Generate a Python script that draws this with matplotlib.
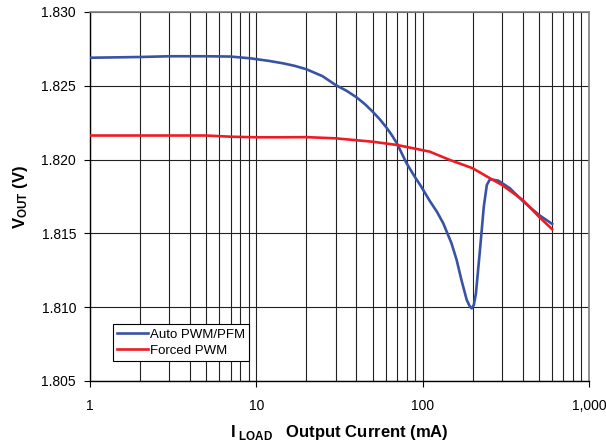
import matplotlib
matplotlib.use("Agg")
from matplotlib import pyplot as plt
from matplotlib.ticker import FixedLocator, LogLocator, NullFormatter

plt.rcParams['font.family'] = ['Liberation Sans', 'DejaVu Sans']
plt.rcParams['mathtext.fontset'] = 'custom'
plt.rcParams['mathtext.rm'] = 'Liberation Sans'
plt.rcParams['mathtext.bf'] = 'Liberation Sans:bold'

# Auto PWM/PFM
auto_x = [1, 2, 3, 5, 7, 9.2, 12, 14.5, 17, 20, 25, 30, 35, 40, 45, 50, 55, 60,
          65, 70, 80, 90, 97, 110, 122, 133, 149, 160, 171, 184, 192, 197,
          203, 209, 221, 233, 243, 254, 285, 334, 403, 500, 600]
auto_y = [1.8269, 1.82695, 1.8270, 1.8270, 1.82698, 1.82686, 1.82668, 1.82652,
          1.82635, 1.82612, 1.82565, 1.82505, 1.82465, 1.82422, 1.82375,
          1.82325, 1.82275, 1.82223, 1.82168, 1.82110, 1.81975, 1.81880,
          1.81825, 1.81722, 1.81645, 1.81568, 1.81433, 1.81320, 1.81184,
          1.81049, 1.81005, 1.80992, 1.81015, 1.81094, 1.81388, 1.81681,
          1.81828, 1.81867, 1.81857, 1.81806, 1.81715, 1.81625, 1.81564]

# Forced PWM
forced_x = [1, 2, 3, 5, 7, 10, 14, 20, 30, 50, 70, 110, 146, 200, 254, 300,
            400, 500, 600]
forced_y = [1.82163, 1.82163, 1.82163, 1.82163, 1.82155, 1.82151, 1.82151,
            1.82152, 1.82144, 1.82121, 1.82099, 1.82054, 1.81997, 1.81941,
            1.81873, 1.81828, 1.81726, 1.81613, 1.81528]

x_ticks = [1, 10, 100, 1000]
x_tick_labels = ['1', '10', '100', '1,000']
y_ticks = [1.805, 1.810, 1.815, 1.820, 1.825, 1.830]

fig = plt.figure(figsize=(6.06, 4.47), dpi=100)
ax = fig.add_axes([0.1485, 0.1477, 0.8235, 0.8255])

ax.plot(auto_x, auto_y, color='#3953A4', lw=1.9, label='Auto PWM/PFM', zorder=3,
        solid_joinstyle='round')
ax.plot(forced_x, forced_y, color='#ED1C24', lw=1.9, label='Forced PWM', zorder=3,
        solid_joinstyle='round')

ax.set_xscale('log')
ax.set_xlim(1, 1000)
ax.set_ylim(1.805, 1.830)
ax.xaxis.set_major_locator(FixedLocator(x_ticks))
ax.set_xticklabels(x_tick_labels)
ax.xaxis.set_minor_locator(LogLocator(base=10, subs=range(2, 10)))
ax.xaxis.set_minor_formatter(NullFormatter())
ax.set_yticks(y_ticks)
ax.set_yticklabels(['%.3f' % v for v in y_ticks])

ax.grid(True, which='both', axis='x', color='#222222', lw=0.8)
ax.grid(True, which='major', axis='y', color='#222222', lw=0.8)
ax.tick_params(axis='both', which='major', direction='out', length=4,
               labelsize=10, color='black', pad=6)
ax.tick_params(axis='x', which='minor', length=0)
ax.tick_params(axis='x', which='major', pad=9)

for side in ['top', 'right']:
    ax.spines[side].set_color('#808080')
    ax.spines[side].set_linewidth(1.2)
for side in ['left', 'bottom']:
    ax.spines[side].set_color('black')
    ax.spines[side].set_linewidth(1.0)

ax.set_ylabel(r'$\mathbf{V_{OUT}}$ (V)', fontsize=12, fontweight='bold', labelpad=8)
ax.set_xlabel(r'$\mathbf{I}_{\ \mathbf{LOAD}}$   Output Current (mA)', fontsize=12,
              fontweight='bold', labelpad=7)

leg = ax.legend(loc='lower left', bbox_to_anchor=(0.047, 0.055), fontsize=9.5,
                frameon=True, fancybox=False, edgecolor='black', framealpha=1,
                borderpad=0.3, handlelength=2.3, handletextpad=0.15,
                labelspacing=0.3, borderaxespad=0)
leg.get_frame().set_linewidth(0.8)

fig.savefig('out.png', dpi=100)
